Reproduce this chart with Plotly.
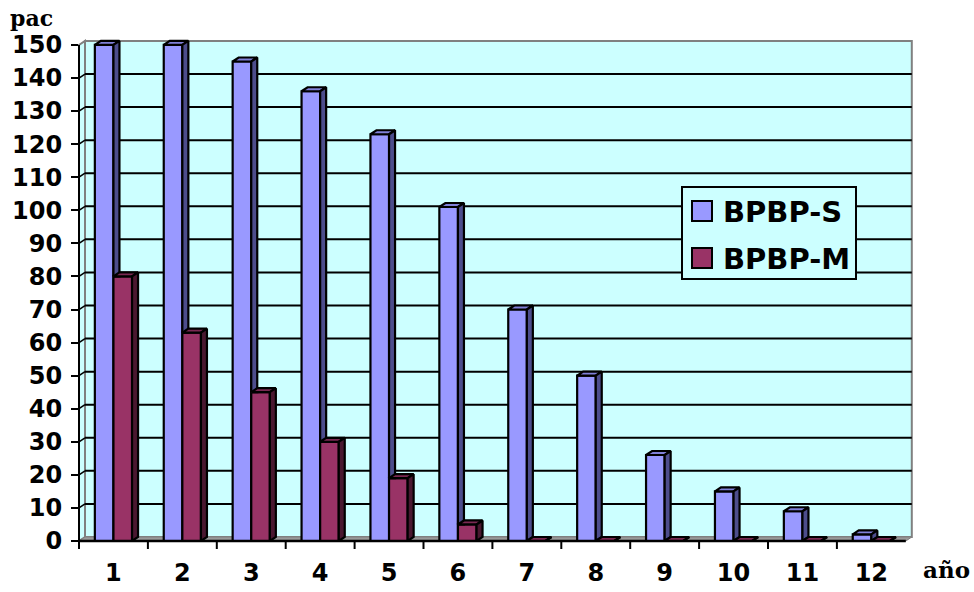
import plotly.graph_objects as go

# Data: patients per year
years = list(range(1, 13))
year_labels = [str(y) for y in years]
bpbp_s = [150, 150, 145, 136, 123, 101, 70, 50, 26, 15, 9, 2]
bpbp_m = [80, 63, 45, 30, 19, 5, 0, 0, 0, 0, 0, 0]
y_ticks = list(range(0, 151, 10))

# Figure geometry (pixels)
W, H = 974, 592
ML, MR, MT, MB = 79, 62, 38, 51
PLOT_W = W - ML - MR
PLOT_H = H - MT - MB
PX_PER_X = 68.9
PX_PER_Y = 3.307
X_MIN = 0.5
X_MAX = X_MIN + PLOT_W / PX_PER_X
Y_MIN = 0.0
Y_MAX = PLOT_H / PX_PER_Y

# depth offsets for the pseudo-3D look
DX = 6 / PX_PER_X
DY = 4 / PX_PER_Y
BAR_W = 0.27
X_LO, X_HI = 0.5, len(years) + 0.5
Y_TOP = 150

CYAN = "#CCFFFF"
WALL_EDGE = "#808080"
FLOOR = "#9A9A9A"
S_FRONT, S_TOP, S_SIDE = "#9999FF", "#8080D8", "#4D4D8C"
M_FRONT, M_TOP, M_SIDE = "#993366", "#7A2952", "#4A1830"


def px(x):
    return (x - X_MIN) / (X_MAX - X_MIN)


def py(y):
    return (y - Y_MIN) / (Y_MAX - Y_MIN)


def pix_x(p):
    return (p - ML) / PLOT_W


def pix_y(p):
    return (H - MB - p) / PLOT_H


def path(points):
    d = "M " + " L ".join(f"{px(a):.5f},{py(b):.5f}" for a, b in points) + " Z"
    return d


shapes = []
# back wall, left wall, floor
shapes.append(dict(type="path", xref="paper", yref="paper", layer="below",
                   path=path([(X_LO + DX, DY), (X_HI + DX, DY), (X_HI + DX, Y_TOP + DY), (X_LO + DX, Y_TOP + DY)]),
                   fillcolor=CYAN, line=dict(color=WALL_EDGE, width=2)))
shapes.append(dict(type="path", xref="paper", yref="paper", layer="below",
                   path=path([(X_LO, 0), (X_LO + DX, DY), (X_LO + DX, Y_TOP + DY), (X_LO, Y_TOP)]),
                   fillcolor=CYAN, line=dict(color=WALL_EDGE, width=2)))
shapes.append(dict(type="path", xref="paper", yref="paper", layer="below",
                   path=path([(X_LO, 0), (X_HI, 0), (X_HI + DX, DY), (X_LO + DX, DY)]),
                   fillcolor=FLOOR, line=dict(color=WALL_EDGE, width=1)))
# gridlines on the back wall, plus their run across the left wall
for v in y_ticks[1:-1]:
    shapes.append(dict(type="line", xref="paper", yref="paper", layer="below",
                       x0=px(X_LO + DX), y0=py(v + DY), x1=px(X_HI + DX), y1=py(v + DY),
                       line=dict(color="black", width=2)))
    shapes.append(dict(type="line", xref="paper", yref="paper", layer="below",
                       x0=px(X_LO), y0=py(v), x1=px(X_LO + DX), y1=py(v + DY),
                       line=dict(color="black", width=1.5)))
# front axis lines
shapes.append(dict(type="line", xref="paper", yref="paper", layer="above",
                   x0=px(X_LO), y0=py(0), x1=px(X_LO), y1=py(Y_TOP),
                   line=dict(color="black", width=2)))
shapes.append(dict(type="line", xref="paper", yref="paper", layer="above",
                   x0=px(X_LO), y0=py(0), x1=px(X_HI), y1=py(0),
                   line=dict(color="black", width=2.5)))
# category boundary ticks on the x axis
for k in range(len(years)):
    xb = X_LO + k
    shapes.append(dict(type="line", xref="paper", yref="paper", layer="above",
                       x0=px(xb), y0=0, x1=px(xb), y1=-8 / PLOT_H,
                       line=dict(color="black", width=2)))

# legend box
shapes.append(dict(type="rect", xref="paper", yref="paper", layer="above",
                   x0=pix_x(682), x1=pix_x(856), y0=pix_y(279), y1=pix_y(187),
                   fillcolor=CYAN, line=dict(color="black", width=2)))
shapes.append(dict(type="rect", xref="paper", yref="paper", layer="above",
                   x0=pix_x(692), x1=pix_x(712), y0=pix_y(221), y1=pix_y(201),
                   fillcolor=S_FRONT, line=dict(color="black", width=2)))
shapes.append(dict(type="rect", xref="paper", yref="paper", layer="above",
                   x0=pix_x(692), x1=pix_x(712), y0=pix_y(268), y1=pix_y(248),
                   fillcolor=M_FRONT, line=dict(color="black", width=2)))

fig = go.Figure()

# front faces of the columns
fig.add_trace(go.Bar(x=years, y=bpbp_s, width=BAR_W, offset=-BAR_W, name="BPBP-S",
                     marker=dict(color=S_FRONT, line=dict(color="black", width=2.2)),
                     showlegend=False))
fig.add_trace(go.Bar(x=years, y=bpbp_m, width=BAR_W, offset=0, name="BPBP-M",
                     marker=dict(color=M_FRONT, line=dict(color="black", width=2.2)),
                     showlegend=False))


def faces(values, left, hide=None):
    tx, ty, sx, sy = [], [], [], []
    for i, (c, v) in enumerate(zip(years, values)):
        x0 = c + left
        x1 = x0 + BAR_W
        tx += [x0, x1, x1 + DX, x0 + DX, x0, None]
        ty += [v, v, v + DY, v + DY, v, None]
        lo0, lo1 = 0, DY
        if hide is not None and hide[i] > 0:
            lo0, lo1 = max(0, hide[i]), max(DY, hide[i])
        sx += [x1, x1 + DX, x1 + DX, x1, x1, None]
        sy += [lo0, lo1, v + DY, v, lo0, None]
    return tx, ty, sx, sy


s_tx, s_ty, s_sx, s_sy = faces(bpbp_s, -BAR_W, hide=bpbp_m)
m_tx, m_ty, m_sx, m_sy = faces(bpbp_m, 0)

for xs, ys, col in [(s_tx, s_ty, S_TOP), (s_sx, s_sy, S_SIDE), (m_tx, m_ty, M_TOP), (m_sx, m_sy, M_SIDE)]:
    fig.add_trace(go.Scatter(x=xs, y=ys, mode="lines", fill="toself", fillcolor=col,
                             line=dict(color="black", width=2.2), showlegend=False,
                             hoverinfo="skip", cliponaxis=False))

annotations = [
    dict(text="<b>BPBP-S</b>", xref="paper", yref="paper", x=pix_x(721), y=pix_y(212),
         xanchor="left", yanchor="middle", showarrow=False,
         font=dict(family="DejaVu Sans", size=29, color="black")),
    dict(text="<b>BPBP-M</b>", xref="paper", yref="paper", x=pix_x(721), y=pix_y(259),
         xanchor="left", yanchor="middle", showarrow=False,
         font=dict(family="DejaVu Sans", size=29, color="black")),
    dict(text="<b>pac</b>", xref="paper", yref="paper", x=pix_x(31), y=pix_y(18),
         xanchor="center", yanchor="middle", showarrow=False,
         font=dict(family="DejaVu Serif", size=22, color="black")),
    dict(text="<b>año</b>", xref="paper", yref="paper", x=pix_x(946), y=pix_y(569),
         xanchor="center", yanchor="middle", showarrow=False,
         font=dict(family="DejaVu Serif", size=23, color="black")),
]

fig.update_layout(
    width=W, height=H,
    margin=dict(l=ML, r=MR, t=MT, b=MB, pad=0, autoexpand=False),
    paper_bgcolor="white", plot_bgcolor="white",
    barmode="overlay",
    shapes=shapes, annotations=annotations,
    xaxis=dict(range=[X_MIN, X_MAX], tickvals=years, ticktext=year_labels, ticks="",
               showgrid=False, zeroline=False, showline=False, ticklabelstandoff=15,
               automargin=False,
               tickfont=dict(family="DejaVu Sans", size=24, color="black", weight="bold")),
    yaxis=dict(range=[Y_MIN, Y_MAX], tickvals=y_ticks, ticks="outside", ticklen=7,
               tickwidth=2, tickcolor="black", showgrid=False, zeroline=False, showline=False,
               ticklabelstandoff=4, automargin=False,
               tickfont=dict(family="DejaVu Sans", size=24, color="black", weight="bold")),
)

fig.write_html("out.html")
